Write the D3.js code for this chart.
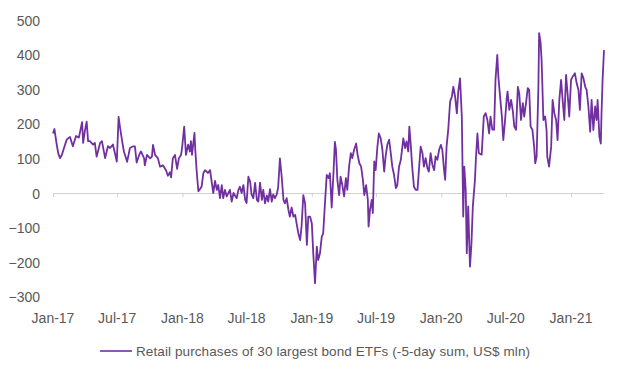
<!DOCTYPE html>
<html>
<head>
<meta charset="utf-8">
<script src="https://cdn.jsdelivr.net/npm/d3@7"></script>
<style>
  body { margin: 0; background: #fff; }
  text { font-family: "Liberation Sans", Arial, sans-serif; fill: #595959; }
</style>
</head>
<body>
<div id="chart"></div>
<script>
// Retail purchases of 30 largest bond ETFs (-5-day sum, US$ mln)
var startDate = new Date(2017, 0, 1);
var endDate = new Date(2021, 3, 4);

// days since startDate
var dayOffsets = [
  0, 4, 10, 15, 20, 25, 31, 39, 48, 56, 65, 73, 82, 85, 90, 95, 99, 104, 113, 118,
  123, 133, 138, 147, 155, 161, 169, 180, 185, 189, 195, 200, 209, 217, 226, 231, 236, 243, 248, 257,
  259, 265, 274, 279, 282, 288, 296, 302, 310, 319, 324, 330, 333, 338, 344, 350, 355, 361, 364, 370,
  375, 381, 386, 389, 392, 399, 401, 405, 410, 415, 419, 424, 429, 437, 443, 448, 452, 457, 462, 466,
  471, 476, 480, 485, 490, 499, 504, 509, 518, 523, 527, 532, 537, 542, 546, 551, 556, 560, 565, 570,
  575, 579, 584, 589, 593, 598, 603, 607, 612, 617, 621, 626, 631, 635, 640, 645, 650, 654, 659, 664,
  668, 673, 678, 683, 687, 692, 697, 701, 706, 711, 716, 720, 725, 730, 734, 739, 744, 748, 753, 758,
  762, 767, 772, 777, 781, 786, 791, 795, 798, 802, 807, 811, 816, 821, 826, 830, 835, 840, 844, 849,
  855, 859, 864, 869, 874, 878, 883, 888, 890, 894, 899, 902, 906, 910, 915, 919, 924, 929, 934, 938,
  943, 948, 952, 957, 962, 967, 971, 976, 981, 988, 993, 997, 1002, 1005, 1009, 1013, 1018, 1023, 1028, 1032,
  1037, 1042, 1046, 1051, 1056, 1060, 1065, 1070, 1075, 1079, 1084, 1089, 1094, 1098, 1103, 1106, 1110, 1115, 1120, 1125,
  1129, 1134, 1139, 1143, 1148, 1153, 1157, 1160, 1164, 1167, 1171, 1176, 1180, 1184, 1190, 1193, 1197, 1201, 1209, 1215,
  1220, 1225, 1230, 1234, 1239, 1244, 1248, 1253, 1256, 1261, 1266, 1270, 1275, 1280, 1282, 1287, 1292, 1297, 1301, 1306,
  1311, 1315, 1320, 1325, 1329, 1334, 1339, 1343, 1347, 1352, 1357, 1360, 1364, 1369, 1371, 1375, 1378, 1380, 1383, 1388,
  1392, 1394, 1399, 1405, 1409, 1414, 1419, 1423, 1428, 1433, 1438, 1442, 1447, 1452, 1456, 1461, 1466, 1472, 1477, 1482,
  1486, 1491, 1496, 1501, 1505, 1510, 1515, 1519, 1524, 1529, 1533, 1536, 1541, 1545, 1547, 1550, 1554
];

var flows = [
  172, 185, 143, 114, 101, 110, 130, 155, 162, 135, 165, 160, 205, 145, 180, 206, 150, 150, 140, 145,
  105, 145, 150, 101, 135, 130, 140, 91, 220, 190, 150, 120, 90, 130, 135, 135, 88, 110, 120, 100,
  80, 110, 100, 105, 139, 110, 100, 76, 80, 65, 50, 60, 45, 100, 110, 70, 100, 110, 130, 192,
  110, 140, 120, 150, 110, 174, 130, 66, 5, 12, 18, 57, 66, 58, 66, 29, 0, 35, 9, 23,
  -15, 23, -15, 9, -10, 9, -25, 0, -15, 9, 18, 0, 23, -20, -29, 47, 33, -4, -15, 29,
  -20, -25, 30, -20, 9, -30, -7, -25, 11, -25, -4, -15, -4, 16, 100, 47, -20, -30, -15, -49,
  -68, -42, -68, -63, -88, -117, -136, -97, -6, -30, -150, -68, -68, -88, -174, -261, -155, -194, -174, -126,
  -117, -30, 52, 43, 57, -42, 57, 148, 126, 38, -6, 47, 23, -10, 43, 9, 76, 115, 101, 124,
  143, 111, 86, 76, 38, -6, 23, -20, -97, -49, -20, -58, 91, 66, 135, 172, 159, 125, 62, 106,
  140, 154, 120, 76, 52, 14, 23, 76, 96, 158, 130, 149, 120, 192, 139, 76, 18, 9, 9, 66,
  134, 115, 76, 101, 72, 62, 115, 81, 66, 106, 96, 125, 139, 125, 66, 38, 134, 187, 264, 279,
  307, 279, 230, 294, 331, 221, -68, 76, 9, -174, -39, -213, -150, -40, 38, 105, 172, 115, 111, 221,
  231, 212, 172, 221, 183, 183, 327, 399, 337, 278, 221, 153, 211, 278, 293, 240, 269, 236, 192, 183,
  307, 288, 211, 260, 221, 260, 303, 298, 192, 183, 134, 86, 105, 307, 462, 436, 384, 317, 211, 221,
  182, 105, 76, 134, 269, 230, 211, 153, 269, 327, 260, 211, 341, 278, 221, 327, 337, 346, 317, 298,
  240, 346, 332, 307, 298, 250, 177, 269, 182, 250, 211, 269, 163, 143, 230, 327, 413
];

var yTicks = [-300, -200, -100, 0, 100, 200, 300, 400, 500];
var seriesName = "Retail purchases of 30 largest bond ETFs (-5-day sum, US$ mln)";

function drawChart() {

  var width = 620;
  var height = 371;

  var data = dayOffsets.map(function(d, i) {
    return { date: d3.timeDay.offset(startDate, d), value: flows[i] };
  });

  var xScale = d3.scaleTime()
      .domain([startDate, endDate])
      .range([53, 604]);

  var yScale = d3.scaleLinear()
      .domain([-300, 500])
      .range([296.8, 20]);

  var svg = d3.select("#chart").append("svg")
      .attr("width", width)
      .attr("height", height);

  // y labels (no axis line in the reference)
  svg.append("g")
      .attr("transform", "translate(40,0)")
      .call(d3.axisLeft(yScale).tickValues(yTicks).tickSize(0).tickPadding(0))
      .call(function(g) { g.select(".domain").remove(); })
      .selectAll("text")
      .style("font-size", "14px")
      .attr("fill", "#595959")
      .attr("dy", "0.36em");

  // zero line with half-year ticks
  var xAxis = svg.append("g")
      .attr("transform", "translate(0," + yScale(0) + ")")
      .call(d3.axisBottom(xScale).ticks(d3.timeMonth.every(6)).tickSize(4).tickFormat(""));
  xAxis.select(".domain")
      .attr("stroke", "#d0d0d0")
      .attr("d", "M53,0.5H604");
  xAxis.selectAll(".tick line").attr("stroke", "#d0d0d0");

  // date labels sit at the bottom of the plot
  var fmt = d3.timeFormat("%b-%y");
  svg.append("g")
    .selectAll("text")
      .data(xScale.ticks(d3.timeMonth.every(6)))
    .enter().append("text")
      .attr("x", function(d) { return xScale(d); })
      .attr("y", 323)
      .style("text-anchor", "middle")
      .style("font-size", "14px")
      .text(function(d) { return fmt(d); });

  var line = d3.line()
      .x(function(d) { return xScale(d.date); })
      .y(function(d) { return yScale(d.value); });

  svg.append("path")
      .datum(data)
      .attr("fill", "none")
      .attr("stroke", "#7030A0")
      .attr("stroke-width", 1.8)
      .attr("stroke-linejoin", "round")
      .attr("d", line);

  // legend
  var legend = svg.append("g");
  legend.append("line")
      .attr("x1", 100).attr("x2", 132)
      .attr("y1", 351).attr("y2", 351)
      .attr("stroke", "#7030A0")
      .attr("stroke-width", 1.6);
  legend.append("text")
      .attr("x", 136)
      .attr("y", 356)
      .attr("textLength", 394)
      .attr("lengthAdjust", "spacing")
      .style("font-size", "13.5px")
      .text(seriesName);
}

drawChart();
</script>
</body>
</html>
